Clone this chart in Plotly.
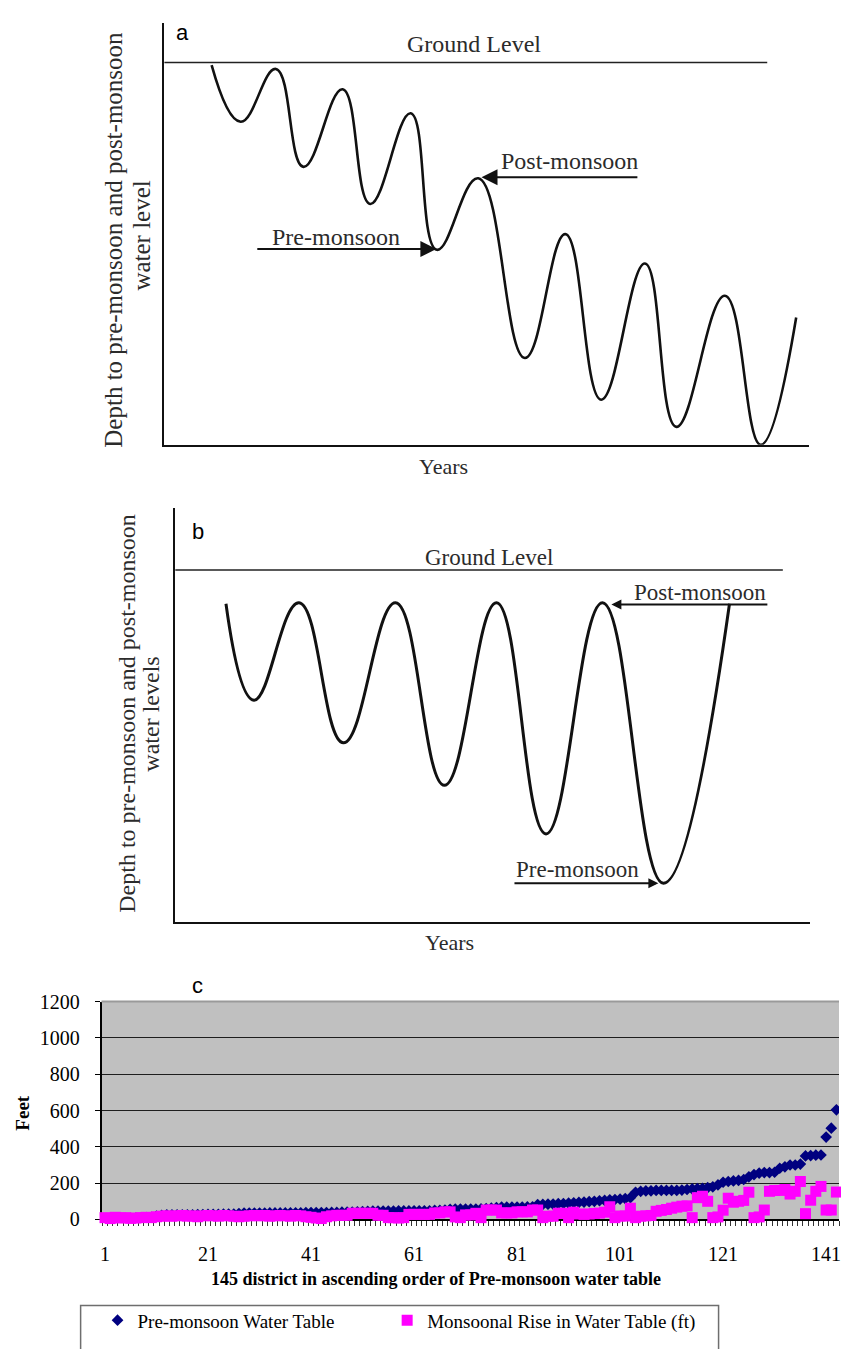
import plotly.graph_objects as go

W, H = 841, 1349

# ---------------- Panel a (schematic: declining water levels) ----------------
A_YEARS = [0.735, 1.185, 1.731, 2.159, 2.765, 3.193, 3.821, 4.227, 4.869,
           5.593, 6.219, 6.775, 7.454, 7.941, 8.694, 9.247, 9.799]
A_DEPTH = [0.07, 1.55, 0.17, 2.73, 0.70, 3.70, 1.33, 4.90, 3.03,
           7.73, 4.49, 8.82, 5.26, 9.53, 6.10, 10.0, 6.67]
A_GROUND_X = [0.0, 9.35]
A_GROUND_Y = [0.0, 0.0]

# ---------------- Panel b (schematic: recovering post-monsoon levels) -------
B_YEARS = [0.80, 1.24, 1.95, 2.65, 3.47, 4.24, 5.06, 5.84, 6.73, 7.69, 8.73]
B_DEPTH = [0.96, 3.70, 0.93, 4.91, 0.93, 6.12, 0.93, 7.50, 0.93, 8.90, 0.96]
B_GROUND_X = [0.0, 9.57]
B_GROUND_Y = [0.0, 0.0]

# ---------------- Panel c (145 districts) ----------------
PRE_MONSOON = [
    2, 3, 4, 5, 5, 6, 7, 8, 10, 12,
    18, 22, 25, 25, 25, 25, 26, 26, 27, 27,
    28, 28, 28, 29, 30, 30, 33, 35, 35, 35,
    35, 35, 36, 36, 36, 36, 37, 37, 37, 38,
    38, 38, 38, 38, 39, 39, 40, 40, 40, 42,
    44, 45, 46, 46, 46, 46, 46, 47, 47, 47,
    48, 48, 48, 48, 50, 50, 52, 56, 57, 57,
    57, 57, 57, 58, 60, 62, 66, 68, 68, 68,
    68, 68, 69, 70, 82, 83, 84, 85, 87, 88,
    90, 92, 94, 96, 98, 100, 103, 105, 108, 110,
    112, 115, 120, 150, 155, 157, 158, 160, 160, 160,
    160, 160, 162, 165, 168, 170, 172, 175, 180, 190,
    205, 209, 212, 215, 220, 235, 247, 255, 258, 258,
    260, 282, 290, 300, 300, 305, 350, 352, 354, 355,
    454, 503, 604, 1000, 1000,
]
MONSOON_RISE = [
    10, 5, 12, 8, 10, 6, 8, 10, 12, 10,
    15, 18, 20, 18, 20, 22, 18, 20, 15, 20,
    22, 20, 18, 22, 20, 18, 15, 18, 20, 22,
    20, 22, 18, 20, 22, 20, 18, 22, 20, 15,
    12, 8, 5, 15, 20, 23, 23, 23, 34, 34,
    34, 34, 34, 23, 23, 10, 10, 8, 10, 28,
    28, 28, 28, 28, 36, 36, 42, 42, 14, 10,
    25, 25, 34, 10, 52, 52, 52, 36, 36, 36,
    42, 42, 42, 52, 52, 10, 18, 18, 34, 34,
    10, 40, 30, 28, 30, 33, 35, 40, 70, 10,
    19, 19, 62, 10, 18, 20, 22, 45, 50, 55,
    62, 68, 73, 75, 10, 120, 128, 100, 10, 14,
    51, 117, 95, 100, 105, 150, 10, 14, 52, 155,
    160, 160, 165, 140, 155, 209, 32, 106, 155, 182,
    52, 52, 151, 100, 100,
]
DISTRICTS = list(range(1, len(PRE_MONSOON) + 1))
X_TICKS = [1, 21, 41, 61, 81, 101, 121, 141]
Y_TICKS = [0, 200, 400, 600, 800, 1000, 1200]

assert len(PRE_MONSOON) == 145 and len(MONSOON_RISE) == 145


def px(xp):
    return xp / W


def py(yp):
    return 1 - yp / H


SERIF = "Liberation Serif"
SANS = "Liberation Sans"
TXT = "#2b2b2b"

fig = go.Figure()

# Panel a traces
fig.add_trace(go.Scatter(x=A_GROUND_X, y=A_GROUND_Y, mode="lines",
                         line=dict(color="#222", width=1.6),
                         xaxis="x", yaxis="y", showlegend=False, hoverinfo="skip"))
fig.add_trace(go.Scatter(x=A_YEARS, y=A_DEPTH, mode="lines",
                         line=dict(color="#111", width=2.6, shape="spline", smoothing=1.25),
                         xaxis="x", yaxis="y", showlegend=False))

# Panel b traces
fig.add_trace(go.Scatter(x=B_GROUND_X, y=B_GROUND_Y, mode="lines",
                         line=dict(color="#222", width=1.6),
                         xaxis="x2", yaxis="y2", showlegend=False, hoverinfo="skip"))
fig.add_trace(go.Scatter(x=B_YEARS, y=B_DEPTH, mode="lines",
                         line=dict(color="#111", width=3, shape="spline", smoothing=1.25),
                         xaxis="x2", yaxis="y2", showlegend=False))

# Panel c traces
fig.add_trace(go.Scatter(x=DISTRICTS, y=PRE_MONSOON, mode="markers",
                         name="Pre-monsoon Water Table", legend="legend",
                         marker=dict(symbol="diamond", size=9, color="#000080",
                                     line=dict(width=0)),
                         cliponaxis=True, xaxis="x3", yaxis="y3"))
fig.add_trace(go.Scatter(x=DISTRICTS, y=MONSOON_RISE, mode="markers",
                         name="Monsoonal Rise in Water Table (ft)", legend="legend2",
                         marker=dict(symbol="square", size=11, color="#FF00FF",
                                     line=dict(width=0)),
                         cliponaxis=False, xaxis="x3", yaxis="y3"))

schem_axis = dict(showline=True, linecolor="#111", linewidth=2, ticks="",
                  showticklabels=False, showgrid=False, zeroline=False)

annotations = []


def ann(text, x, y, xref="paper", yref="paper", size=24, family=SERIF,
        color=TXT, angle=0, **kw):
    annotations.append(dict(text=text, x=x, y=y, xref=xref, yref=yref,
                            showarrow=False, textangle=angle,
                            font=dict(family=family, size=size, color=color),
                            xanchor="center", yanchor="middle", **kw))


def arrow(x_head, y_head, x_tail, y_tail, xr, yr, width=2, size=1.4):
    annotations.append(dict(text="", x=x_head, y=y_head, ax=x_tail, ay=y_tail,
                            xref=xr, yref=yr, axref=xr, ayref=yr,
                            showarrow=True, arrowhead=2, arrowsize=size,
                            arrowwidth=width, arrowcolor="#111", standoff=0))


# Panel a texts
ann("a", px(181), py(22), size=22, family=SANS, color="#000")
ann("Ground Level", 4.81, -0.47, "x", "y")
ann("Post-monsoon", 6.28, 2.58, "x", "y")
ann("Pre-monsoon", 2.67, 4.57, "x", "y")
arrow(4.92, 3.00, 7.36, 3.00, "x", "y", size=1.6)
arrow(4.22, 4.88, 1.42, 4.88, "x", "y", size=1.6)
ann("Years", px(444), py(463), size=22)
ann("Depth to pre-monsoon and post-monsoon", px(112), py(232), size=25, angle=-90)
ann("water level", px(140), py(228), size=25, angle=-90)

# Panel b texts
ann("b", px(197), py(529), size=22, family=SANS, color="#000")
ann("Ground Level", 4.95, -0.37, "x2", "y2", size=23)
ann("Post-monsoon", 8.27, 0.63, "x2", "y2", size=23)
ann("Pre-monsoon", 6.34, 8.52, "x2", "y2", size=23)
arrow(6.87, 0.98, 9.35, 0.98, "x2", "y2", width=2, size=1.0)
arrow(7.61, 8.90, 5.32, 8.90, "x2", "y2", width=2, size=1.0)
ann("Years", px(450), py(947), size=22)
ann("Depth to pre-monsoon and post-monsoon", px(126), py(714), size=24, angle=-90)
ann("water levels", px(150), py(715), size=24, angle=-90)

# Panel c texts
ann("c", px(196), py(991), size=22, family=SANS, color="#000")
ann("<b>Feet</b>", px(21), py(1120), size=19, color="#000", angle=-90)
ann("<b>145 district in ascending order of Pre-monsoon water table</b>",
    px(436), py(1289), size=18, color="#000")

shapes = [
    dict(type="rect", xref="x3 domain", yref="y3 domain", x0=0, x1=1, y0=0, y1=1,
         fillcolor="#C0C0C0", line=dict(width=0), layer="below"),
    dict(type="line", xref="x3 domain", yref="y3 domain", x0=0, x1=1, y0=1, y1=1,
         line=dict(color="#9a9a9a", width=2)),
    dict(type="rect", xref="paper", yref="paper", x0=px(79), x1=px(720),
         y0=-0.05, y1=py(1316), line=dict(color="#6e6e6e", width=1.5),
         fillcolor="rgba(0,0,0,0)"),
]

legend_common = dict(orientation="h", yanchor="middle", xanchor="left",
                     font=dict(family=SERIF, size=19, color="#000"),
                     bgcolor="rgba(0,0,0,0)", borderwidth=0)

fig.update_layout(
    width=W, height=H,
    margin=dict(l=0, r=0, t=0, b=0),
    paper_bgcolor="white", plot_bgcolor="rgba(0,0,0,0)",
    xaxis=dict(domain=[px(163), px(811)], range=[0, 10], anchor="y", **schem_axis),
    yaxis=dict(domain=[py(441), py(12)], range=[10, -1.037], anchor="x", **schem_axis),
    xaxis2=dict(domain=[px(174), px(812)], range=[0, 10], anchor="y2", **schem_axis),
    yaxis2=dict(domain=[py(926), py(505)], range=[10, -1.77], anchor="x2", **schem_axis),
    xaxis3=dict(domain=[px(100), 1.0], range=[0.325, 143.5], anchor="y3",
                tickmode="array", tickvals=X_TICKS, ticktext=[str(v) for v in X_TICKS],
                ticks="", ticklabelstandoff=16, ticklabeloverflow="allow",
                tickfont=dict(family=SERIF, size=20, color="#000"),
                minor=dict(tickmode="array",
                           tickvals=[d - 0.5 for d in DISTRICTS] + [DISTRICTS[-1] + 0.5],
                           ticks="outside", ticklen=5, tickwidth=1, tickcolor="#333",
                           showgrid=False),
                showline=True, linecolor="#000", linewidth=1.5,
                showgrid=False, zeroline=False, layer="below traces"),
    yaxis3=dict(domain=[py(1228.5), py(1007)], range=[0, 1200], anchor="x3",
                tickmode="array", tickvals=Y_TICKS, ticktext=[str(v) for v in Y_TICKS],
                ticks="outside", ticklen=5, tickcolor="#000", tickwidth=1,
                ticklabelstandoff=11,
                tickfont=dict(family=SERIF, size=20, color="#000"),
                showline=True, linecolor="#000", linewidth=1.5,
                showgrid=True, gridcolor="#1e1e1e", gridwidth=1.2,
                zeroline=False, layer="below traces"),
    showlegend=True,
    legend=dict(x=px(96), y=py(1331), **legend_common),
    legend2=dict(x=px(387), y=py(1331), **legend_common),
    annotations=annotations,
    shapes=shapes,
)

fig.write_html("out.html", config={"displayModeBar": False},
               post_script="document.body.style.margin='0px';")
